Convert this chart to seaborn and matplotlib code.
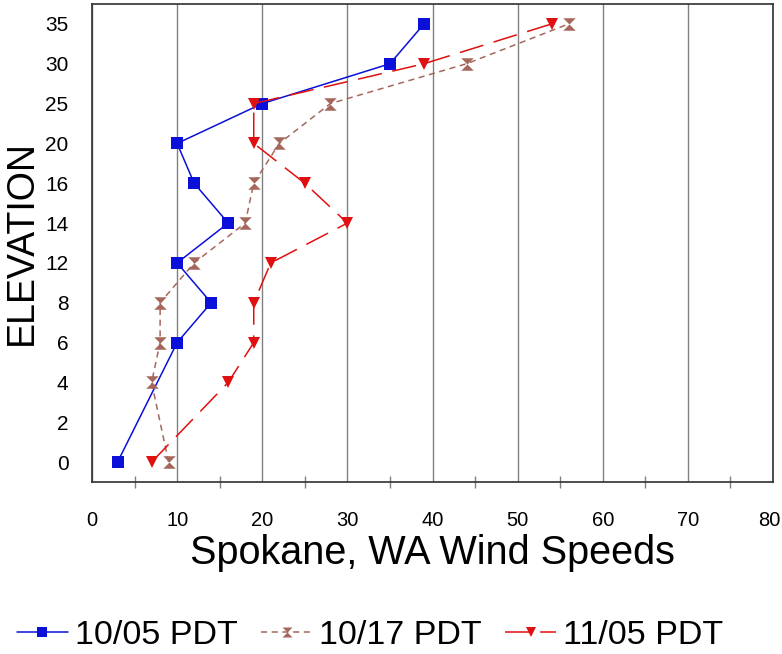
import numpy as np
import pandas as pd
import matplotlib
matplotlib.use("Agg")
import matplotlib.pyplot as plt
import seaborn as sns
from matplotlib.path import Path
from matplotlib.ticker import MultipleLocator, FixedFormatter

# === Data ===
elev_labels = ["0", "2", "4", "6", "8", "12", "14", "16", "20", "25", "30", "35"]
wind_ticks = [0, 10, 20, 30, 40, 50, 60, 70, 80]

elev_1005 = ["0", "6", "8", "12", "14", "16", "20", "25", "30", "35"]
wind_1005 = [3, 10, 14, 10, 16, 12, 10, 20, 35, 39]

elev_1017 = ["0", "4", "6", "8", "12", "14", "16", "20", "25", "30", "35"]
wind_1017 = [9, 7, 8, 8, 12, 18, 19, 22, 28, 44, 56]

elev_1105 = ["0", "4", "6", "8", "12", "14", "16", "20", "25", "30", "35"]
wind_1105 = [7, 16, 19, 19, 21, 30, 25, 19, 19, 39, 54]

series_names = ["10/05 PDT", "10/17 PDT", "11/05 PDT"]

# === Build long table ===
frames = []
for name, elev, wind in zip(series_names,
                            [elev_1005, elev_1017, elev_1105],
                            [wind_1005, wind_1017, wind_1105]):
    frames.append(pd.DataFrame({
        "Series": name,
        "Wind": wind,
        "Elev": elev,
        "Pos": [elev_labels.index(e) for e in elev],
    }))
df = pd.concat(frames, ignore_index=True)

# === Style ===
sns.set_theme(style="white")
plt.rcParams["font.family"] = ["Liberation Sans", "DejaVu Sans"]
plt.rcParams["text.color"] = "black"
plt.rcParams["axes.labelcolor"] = "black"

hourglass = Path(
    [(-1, 1), (1, 1), (0, 0), (1, -1), (-1, -1), (0, 0), (-1, 1)],
    [Path.MOVETO, Path.LINETO, Path.LINETO, Path.LINETO, Path.LINETO,
     Path.LINETO, Path.CLOSEPOLY],
)

palette = {"10/05 PDT": "#0a10d8", "10/17 PDT": "#a5675c", "11/05 PDT": "#e01010"}
markers = {"10/05 PDT": "s", "10/17 PDT": hourglass, "11/05 PDT": "v"}
dashes = {"10/05 PDT": "", "10/17 PDT": (4, 3), "11/05 PDT": (16, 7)}

fig = plt.figure(figsize=(7.82, 6.54), dpi=100)
ax = fig.add_axes([92 / 782, 1 - 482 / 654, (773 - 92) / 782, (482 - 4) / 654])

sns.lineplot(
    data=df, x="Wind", y="Pos",
    hue="Series", style="Series",
    palette=palette, markers=markers, dashes=dashes,
    sort=False, estimator=None, legend=False,
    lw=1.1, markersize=9, markeredgewidth=0, ax=ax,
)

# === Axes ===
ax.set_xlim(0, 80)
ax.set_ylim(-0.5, 11.5)
ax.set_yticks(range(len(elev_labels)))
ax.set_yticklabels(elev_labels)
ax.set_xticks(wind_ticks)
# last label ("80") is drawn separately, nudged left so it stays inside
ax.set_xticklabels([str(t) for t in wind_ticks[:-1]] + [""])
ax.annotate(str(wind_ticks[-1]), xy=(wind_ticks[-1], 0),
            xycoords=("data", "axes fraction"),
            xytext=(-3, -21), textcoords="offset points",
            ha="center", va="top", fontsize=14.5, color="black")
ax.xaxis.set_minor_locator(MultipleLocator(5))

ax.xaxis.grid(True, which="major", color="#808080", lw=1)
ax.yaxis.grid(False)
ax.set_axisbelow(True)

for sp in ax.spines.values():
    sp.set_color("#303030")
    sp.set_linewidth(1.2)

ax.tick_params(axis="y", which="major", direction="inout", length=12,
               width=1, color="#808080", labelsize=15, pad=11, labelcolor="black")
ax.tick_params(axis="x", which="major", direction="out", length=10,
               width=1, color="#808080", labelsize=14.5, pad=11, labelcolor="black")
ax.tick_params(axis="x", which="minor", direction="inout", length=9,
               width=1, color="#808080", bottom=True)

ax.set_xlabel("Spokane, WA Wind Speeds", fontsize=28.5, labelpad=3)
ax.set_ylabel("ELEVATION", fontsize=27, labelpad=4)

# === Legend ===
fig.legend(
    ax.get_lines()[:3], series_names,
    loc="center", bbox_to_anchor=(370 / 782, 1 - 635 / 654),
    ncol=3, frameon=False, fontsize=24.5,
    handlelength=1.5, handletextpad=0.2, columnspacing=0.7,
    markerscale=0.8,
)

plt.savefig("out.png", dpi=100)
